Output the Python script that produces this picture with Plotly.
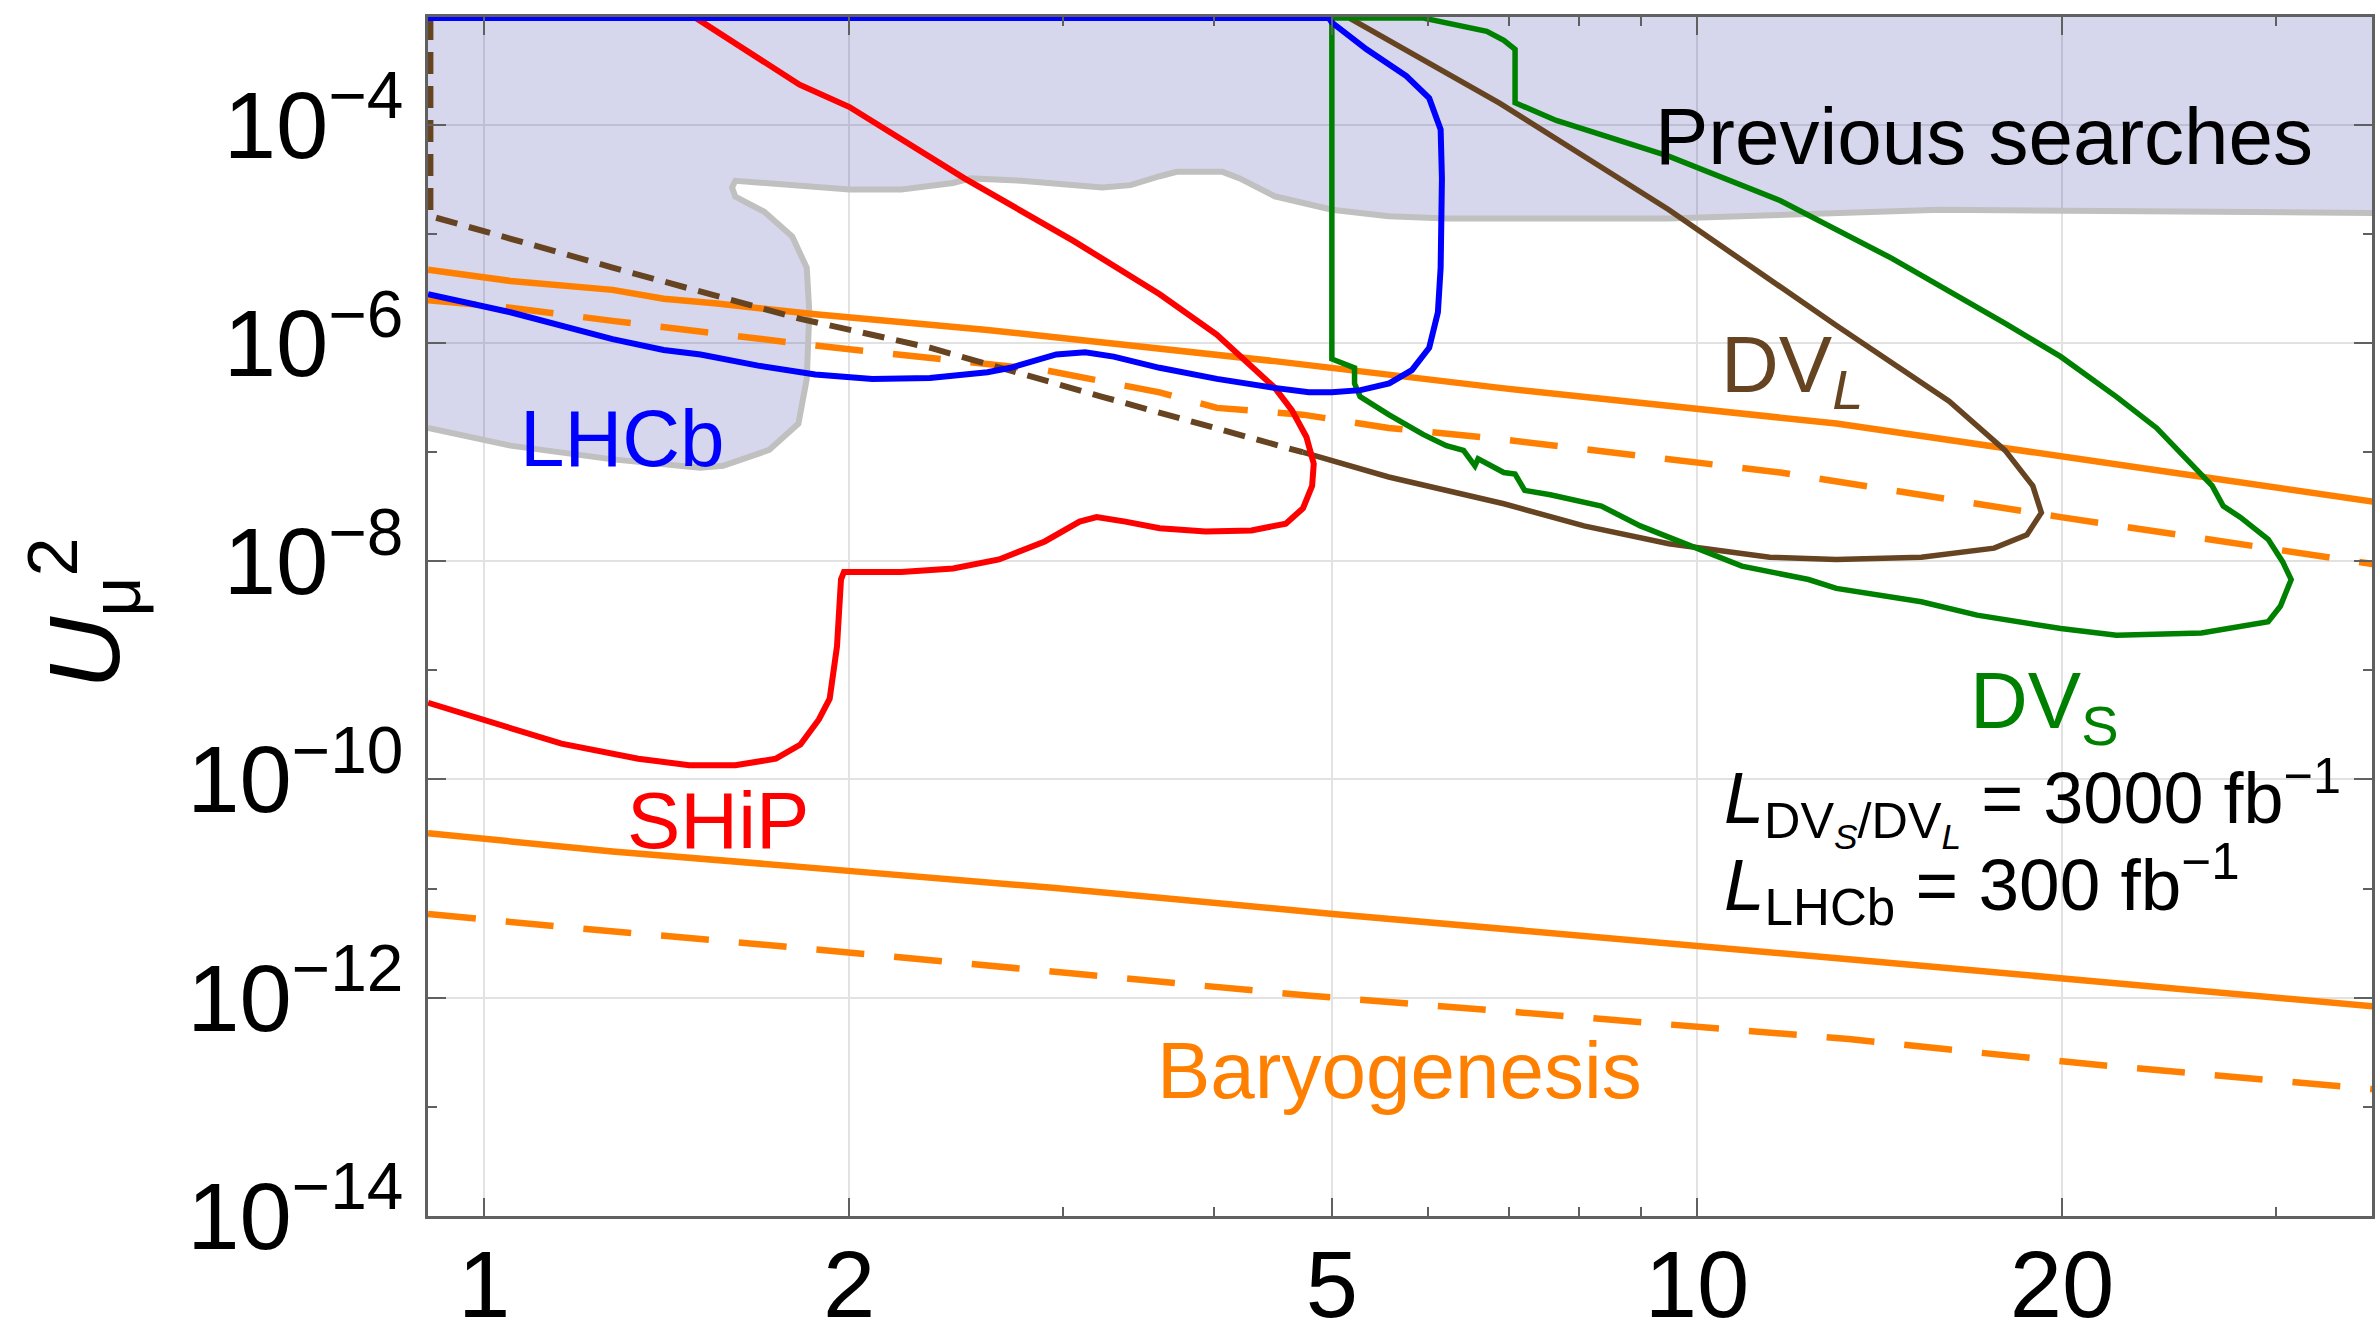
import plotly.graph_objects as go

# ---------------- data (mass in GeV, U_mu^2) ----------------
# Previous searches: lower boundary of excluded region
prev_m = [0.899, 1.051, 1.276, 1.507, 1.574, 1.718, 1.816, 1.845, 1.854, 1.845, 1.795, 1.702,
          1.611, 1.601, 1.611, 1.774, 2.001, 2.208, 2.436, 2.518, 2.773, 3.233, 3.412, 3.606,
          3.724, 4.064, 4.198, 4.487, 5.0, 5.57, 6.22, 8.32, 9.48, 15.85, 36.06]
prev_u2 = [1.67e-7, 1.15e-7, 8.6e-8, 7.2e-8, 7.5e-8, 1.05e-7, 1.83e-7, 4.7e-7, 1.92e-6, 4.9e-6,
           9.5e-6, 1.6e-5, 2.2e-5, 2.68e-5, 3.08e-5, 2.81e-5, 2.56e-5, 2.56e-5, 2.94e-5, 3.24e-5,
           3.08e-5, 2.68e-5, 2.81e-5, 3.39e-5, 3.72e-5, 3.72e-5, 3.24e-5, 2.22e-5, 1.67e-5,
           1.46e-5, 1.39e-5, 1.39e-5, 1.39e-5, 1.67e-5, 1.55e-5]
# closing corners of the excluded region (outside the visible frame)
prev_close_m = [40.0, 40.0, 0.85, 0.85]
prev_close_u2 = [1.55e-5, 1e-2, 1e-2, 1.67e-7]

# LHCb (300 fb^-1)
lhcb_m = [0.899, 1.051, 1.276, 1.406, 1.508, 1.682, 1.875, 2.09, 2.331, 2.6, 2.716, 2.837, 2.963,
          3.13, 3.304, 3.605, 4.02, 4.484, 4.786, 5.0, 5.28, 5.575, 5.82, 6.015, 6.115, 6.147,
          6.162, 6.147, 6.015, 5.76, 5.34, 5.0, 4.973, 0.85]
lhcb_u2 = [2.81e-6, 1.92e-6, 1.09e-6, 8.65e-7, 7.87e-7, 6.22e-7, 5.15e-7, 4.7e-7, 4.79e-7, 5.41e-7,
           5.94e-7, 6.84e-7, 7.87e-7, 8.26e-7, 7.52e-7, 5.94e-7, 4.7e-7, 3.89e-7, 3.54e-7, 3.54e-7,
           3.71e-7, 4.28e-7, 5.66e-7, 9.08e-7, 1.92e-6, 4.93e-6, 3.24e-5, 9.1e-5, 1.76e-4, 2.81e-4,
           4.94e-4, 8.7e-4, 9.55e-4, 9.55e-4]

# SHiP
ship_m = [0.899, 1.0, 1.158, 1.340, 1.476, 1.611, 1.740, 1.823, 1.888, 1.927, 1.954, 1.969, 1.980,
          2.208, 2.436, 2.658, 2.899, 3.097, 3.199, 3.378, 3.606, 3.934, 4.292, 4.581, 4.734, 4.816,
          4.831, 4.764, 4.634, 4.487, 4.246, 4.018, 3.606, 3.061, 2.489, 2.001, 1.820, 1.49]
ship_u2 = [5.05e-10, 3.51e-10, 2.13e-10, 1.55e-10, 1.35e-10, 1.35e-10, 1.55e-10, 2.09e-10, 3.55e-10,
           5.5e-10, 1.66e-9, 6.82e-9, 8.0e-9, 8.0e-9, 8.61e-9, 1.04e-8, 1.52e-8, 2.31e-8, 2.54e-8,
           2.31e-8, 2.01e-8, 1.88e-8, 1.92e-8, 2.21e-8, 3.07e-8, 4.91e-8, 7.85e-8, 1.38e-7, 2.43e-7,
           3.89e-7, 6.84e-7, 1.2e-6, 2.81e-6, 8.67e-6, 3.24e-5, 1.46e-4, 2.34e-4, 9.8e-4]

# DV_S (3000 fb^-1)
dvs_m = [5.0, 5.0, 5.22, 5.22, 5.275, 5.57, 5.95, 6.214, 6.42, 6.56, 6.6, 6.93, 7.08, 7.21, 7.57,
         8.34, 8.98, 9.78, 10.89, 12.36, 13.03, 15.31, 17.02, 19.95, 22.18, 26.06, 28.31, 29.58,
         30.27, 30.9, 30.4, 29.58, 28.05, 27.16, 26.6, 25.76, 23.93, 22.18, 19.95, 17.95, 14.49,
         11.72, 9.475, 7.656, 7.108, 7.08, 7.08, 6.93, 6.71, 5.95, 5.0]
dvs_u2 = [9.55e-4, 7.16e-7, 5.94e-7, 4.27e-7, 3.24e-7, 2.21e-7, 1.45e-7, 1.15e-7, 1.04e-7, 7.5e-8,
          8.7e-8, 6.52e-8, 6.3e-8, 4.47e-8, 4.07e-8, 3.21e-8, 2.11e-8, 1.45e-8, 9.04e-9, 6.81e-9,
          5.65e-9, 4.26e-9, 3.21e-9, 2.42e-9, 2.10e-9, 2.20e-9, 2.54e-9, 2.79e-9, 3.87e-9, 6.81e-9,
          9.93e-9, 1.59e-8, 2.54e-8, 3.21e-8, 4.91e-8, 7.16e-8, 1.67e-7, 3.22e-7, 7.52e-7, 1.52e-6,
          5.96e-6, 2.02e-5, 5.18e-5, 1.10e-4, 1.53e-4, 1.6e-4, 4.94e-4, 5.97e-4, 7.21e-4, 9.55e-4,
          9.55e-4]

# DV_L (3000 fb^-1): dashed and solid parts
dvl_dash_m = [0.903, 0.903, 1.276, 1.823, 2.331, 3.228, 4.73]
dvl_dash_u2 = [9.55e-4, 1.46e-5, 4.93e-6, 1.67e-6, 9.08e-7, 3.24e-7, 1.0e-7]
dvl_m = [4.73, 5.57, 6.93, 8.07, 9.48, 11.48, 13.03, 15.31, 17.58, 18.71, 19.23, 18.92, 17.95,
         16.14, 13.03, 9.48, 6.88, 5.17]
dvl_u2 = [1.0e-7, 5.93e-8, 3.37e-8, 2.11e-8, 1.45e-8, 1.09e-8, 1.04e-8, 1.09e-8, 1.32e-8, 1.75e-8,
          2.79e-8, 4.91e-8, 1.04e-7, 2.93e-7, 1.45e-6, 1.67e-5, 1.58e-4, 9.55e-4]

# Baryogenesis lines
bau_hi_solid_m = [0.899, 1.02, 1.051, 1.276, 1.406, 1.549, 1.875, 2.6, 4.484, 6.88, 8.32, 13.03, 24.66, 36.06]
bau_hi_solid_u2 = [4.70e-6, 3.9e-6, 3.72e-6, 3.08e-6, 2.55e-6, 2.32e-6, 1.84e-6, 1.32e-6, 6.84e-7,
                   3.89e-7, 3.08e-7, 1.83e-7, 6.52e-8, 3.53e-8]
bau_hi_dash_m = [0.899, 1.051, 1.276, 1.875, 2.897, 3.605, 4.02, 4.73, 5.57, 6.88, 11.72, 19.95, 36.06]
bau_hi_dash_u2 = [2.48e-6, 2.11e-6, 1.6e-6, 9.5e-7, 5.66e-7, 3.54e-7, 2.55e-7, 2.21e-7, 1.67e-7,
                  1.32e-7, 6.52e-8, 2.54e-8, 9.46e-9]
bau_lo_solid_m = [0.899, 1.276, 1.823, 2.958, 5.01, 8.32, 13.34, 20.04, 36.06]
bau_lo_solid_u2 = [3.21e-11, 2.19e-11, 1.58e-11, 1.01e-11, 5.85e-12, 3.63e-12, 2.25e-12, 1.5e-12, 8.32e-13]
bau_lo_dash_m = [0.899, 1.158, 1.758, 2.958, 4.8, 8.22, 13.34, 21.38, 36.06]
bau_lo_dash_u2 = [5.85e-12, 4.46e-12, 2.96e-12, 1.71e-12, 1.04e-12, 6.46e-13, 4.17e-13, 2.42e-13, 1.45e-13]

# axes ticks
x_tickvals = [1, 2, 5, 10, 20]
x_ticktext = ["1", "2", "5", "10", "20"]
x_minor = [3, 4, 6, 7, 8, 9, 30]
y_exps = [-14, -12, -10, -8, -6, -4]
y_tickvals = [10.0 ** e for e in y_exps]
y_ticktext = ["10<sup>\u2212%d</sup>" % (-e) for e in y_exps]
y_minor = [10.0 ** e for e in [-13, -11, -9, -7, -5]]

# ---------------- styling ----------------
FONT = "Liberation Sans, Arial, Helvetica, sans-serif"
ORANGE = "rgb(255,128,0)"
BLUE = "rgb(0,0,255)"
RED = "rgb(255,0,0)"
GREEN = "rgb(0,128,0)"
BROWN = "rgb(102,68,34)"

fig = go.Figure()

fig.add_trace(go.Scatter(
    x=prev_m + prev_close_m, y=prev_u2 + prev_close_u2, mode="lines",
    fill="toself", fillcolor="rgba(50,55,160,0.2)",
    line=dict(color="rgb(192,192,192)", width=6), hoverinfo="skip"))

for xs, ys, dash in [(bau_hi_solid_m, bau_hi_solid_u2, "solid"),
                     (bau_hi_dash_m, bau_hi_dash_u2, "48px,30px"),
                     (bau_lo_solid_m, bau_lo_solid_u2, "solid"),
                     (bau_lo_dash_m, bau_lo_dash_u2, "48px,30px")]:
    fig.add_trace(go.Scatter(x=xs, y=ys, mode="lines",
                             line=dict(color=ORANGE, width=6.5, dash=dash), hoverinfo="skip"))

fig.add_trace(go.Scatter(x=dvl_dash_m, y=dvl_dash_u2, mode="lines",
                         line=dict(color=BROWN, width=6, dash="22px,12px"), hoverinfo="skip"))
fig.add_trace(go.Scatter(x=dvl_m, y=dvl_u2, mode="lines",
                         line=dict(color=BROWN, width=5.5), hoverinfo="skip"))
fig.add_trace(go.Scatter(x=ship_m, y=ship_u2, mode="lines",
                         line=dict(color=RED, width=6), hoverinfo="skip"))
fig.add_trace(go.Scatter(x=dvs_m, y=dvs_u2, mode="lines",
                         line=dict(color=GREEN, width=5.5), hoverinfo="skip"))
fig.add_trace(go.Scatter(x=lhcb_m, y=lhcb_u2, mode="lines",
                         line=dict(color=BLUE, width=6), hoverinfo="skip"))

ann = [
    dict(text="Previous searches", x=1.2365, y=-4.11, color="black", size=80, xanchor="center"),
    dict(text="LHCb", x=0.114, y=-6.873, color=BLUE, size=80, xanchor="center"),
    dict(text="SHiP", x=0.1924, y=-10.373, color=RED, size=80, xanchor="center"),
    dict(text="Baryogenesis", x=0.755, y=-12.664, color=ORANGE, size=80, xanchor="center"),
    dict(text="DV<sub><i>L</i></sub>", x=1.018, y=-6.25, color=BROWN, size=80, xanchor="left"),
    dict(text="DV<sub>S</sub>", x=1.2233, y=-9.33, color=GREEN, size=80, xanchor="left"),
    dict(text="<i>L</i><sub>DV<sub><i>S</i></sub>/DV<sub><i>L</i></sub></sub> = 3000 fb<sup>\u22121</sup>",
         x=1.0206, y=-10.2, color="black", size=72, xanchor="left"),
    dict(text="<i>L</i><sub>LHCb</sub> = 300 fb<sup>\u22121</sup>",
         x=1.0206, y=-10.96, color="black", size=73, xanchor="left"),
]
for a in ann:
    fig.add_annotation(text=a["text"], x=a["x"], y=a["y"], xref="x", yref="y",
                       showarrow=False, xanchor=a["xanchor"], yanchor="middle",
                       font=dict(family=FONT, size=a["size"], color=a["color"]))

fig.add_annotation(text="<i>U</i><sub>\u03bc</sub><sup>2</sup>", xref="paper", yref="paper",
                   x=-0.1764, y=0.503, xanchor="center", yanchor="middle", textangle=-90,
                   showarrow=False, font=dict(family=FONT, size=100, color="black"))

axis_common = dict(type="log", showline=True, linecolor="#606060", linewidth=2.5, mirror="ticks",
                   ticks="inside", tickcolor="#606060", tickwidth=2, ticklen=18,
                   showgrid=True, gridcolor="#e2e2e2", gridwidth=2, automargin=False,
                   tickfont=dict(family=FONT, size=94, color="black"), zeroline=False)

fig.update_layout(
    width=2379, height=1327,
    margin=dict(l=428, r=7, t=17, b=111, autoexpand=False),
    paper_bgcolor="white", plot_bgcolor="white", showlegend=False,
    xaxis=dict(range=[-0.0463, 1.5566], tickmode="array", tickvals=x_tickvals, ticktext=x_ticktext,
               minor=dict(tickmode="array", tickvals=x_minor, ticks="inside", ticklen=9,
                          tickcolor="#606060", tickwidth=2, showgrid=False),
               ticklabelstandoff=-15, **axis_common),
    yaxis=dict(range=[-14.002, -3.01], tickmode="array", tickvals=y_tickvals, ticktext=y_ticktext,
               minor=dict(tickmode="array", tickvals=y_minor, ticks="inside", ticklen=9,
                          tickcolor="#606060", tickwidth=2, showgrid=False),
               ticklabelstandoff=3, **axis_common),
)

fig.write_html("out.html", config={"displayModeBar": False},
               post_script="document.body.style.margin='0';document.body.style.overflow='hidden';")
